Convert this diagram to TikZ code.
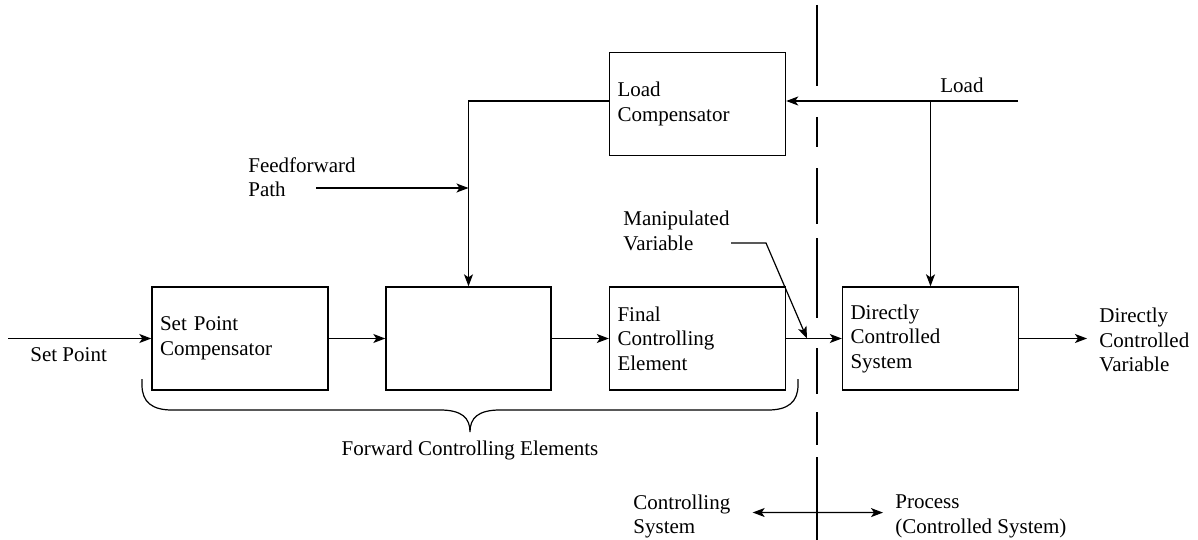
\documentclass[tikz,border=0pt]{standalone}
\usepackage{fontspec}
\setmainfont{Liberation Serif}
\newfontfamily\diagfont{Liberation Serif}
\usetikzlibrary{arrows.meta}

\begin{document}
\begin{tikzpicture}[x=0.5pt,y=-0.5pt,
  font=\diagfont\fontsize{10.5pt}{12.25pt}\selectfont,
  wire/.style={line width=0.6pt},
  arr/.style={wire,-{Stealth[length=6pt,width=4.5pt,inset=1.5pt]}},
  dblarr/.style={wire,{Stealth[length=6pt,width=4.5pt,inset=1.5pt]}-{Stealth[length=6pt,width=4.5pt,inset=1.5pt]}},
  blockbox/.style={draw,line width=0.7pt,minimum height=51.5pt,inner xsep=4pt,inner ysep=0pt,text width=80pt,align=left},
  lbl/.style={inner sep=0pt,align=left},
  divider/.style={line width=0.55pt}]

\useasboundingbox (0,0) rectangle (1198,540);

% blocks
\node[blockbox] (lc) at (697.5,104) {Load\\Compensator};
\node[blockbox] (spc) at (240,338.5) {Set Point\\Compensator};
\node[blockbox,text width=74.5pt] (mid) at (468.5,338.5) {};
\node[blockbox] (fce) at (697.5,338.5) {Final\\Controlling\\Element};
\node[blockbox] (dcs) at (930.5,338.5) {Directly\\Controlled\\System};

% free ends of the signal lines
\coordinate (spin) at (8,338.5);
\coordinate (loadin) at (1018,101);
\coordinate (ffin) at (316,188);
\coordinate (dcvout) at (1087,338.5);
\coordinate (mvstart) at (731,243);
\coordinate (mvbend) at (766,243);
\coordinate (mvtip) at (807,338.5);

% forward path
\draw[arr] (spin) -- (spc.west);
\draw[arr] (spc.east) -- (mid.west);
\draw[arr] (mid.east) -- (fce.west);
\draw[arr] (fce.east) -- (dcs.west);
\draw[arr] (dcs.east) -- (dcvout);

% load and feedforward path
\draw[arr] (loadin) -- (loadin -| lc.east);
\draw[arr] (loadin -| dcs.north) -- (dcs.north);
\draw[arr] (loadin -| lc.west) -| (mid.north);
\draw[arr] (ffin) -- (ffin -| mid.north);

% manipulated variable pointer
\draw[arr] (mvstart) -- (mvbend) -- (mvtip);

% boundary between controlling system and process
\draw[divider] (817,5) -- (817,86) (817,117) -- (817,147) (817,168) -- (817,224)
  (817,238) -- (817,318) (817,348) -- (817,394) (817,412) -- (817,445) (817,457) -- (817,540);

% brace under the forward controlling elements
\draw[wire] (142,379) -- (142,385) .. controls (142,402) and (152,410) .. (172,410)
  -- (440,410) .. controls (462,410) and (470,418) .. (470,432)
  .. controls (470,418) and (478,410) .. (500,410)
  -- (768,410) .. controls (788,410) and (798,402) .. (798,385) -- (798,379);

% labels
\node[lbl,anchor=base west] (sp) at (30,361) {Set Point};
\node[lbl,anchor=north west] (ff) at (248,157.3) {Feedforward\\Path};
\node[lbl,anchor=base west] (ld) at (940,93) {Load};
\node[lbl,anchor=north west] (mv) at (623,211) {Manipulated\\Variable};
\node[lbl,anchor=north west] (dcv) at (1099,308) {Directly\\Controlled\\Variable};
\node[lbl,anchor=base] (fwd) at (470,455) {Forward Controlling Elements};
\node[lbl,anchor=north west] (cs) at (633,494.3) {Controlling\\System};
\node[lbl,anchor=north west] (pr) at (895,494.8) {Process\\(Controlled System)};

\draw[dblarr] ([xshift=11pt,yshift=2pt]cs.east) -- ([xshift=-6pt,yshift=2pt]pr.west);
\end{tikzpicture}
\end{document}
